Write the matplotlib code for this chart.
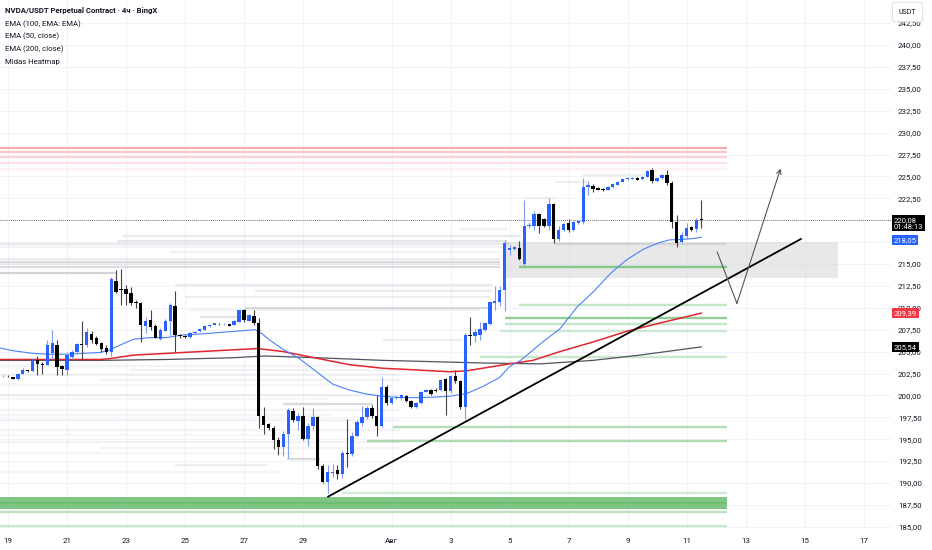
import matplotlib
matplotlib.use('Agg')
import matplotlib.pyplot as plt
import matplotlib.dates as mdates
import numpy as np
import pandas as pd

plt.rcParams['font.family'] = ['Roboto', 'DejaVu Sans']

# 4h candles, NVDA/USDT perpetual on BingX
first_bar = '2025-07-18 20:00'
opens = [202.2, 202.25, 202.1, 201.85, 202.5, 202.9, 202.8, 204.0, 203.6, 203.5,
         204.8, 205.8, 203.3, 202.9, 204.4, 204.9, 205.9, 205.75, 207.05, 206.5,
         205.95, 205.4, 204.9, 213.1, 212.15, 212.1, 211.65, 210.7, 210.5, 207.95,
         208.6, 207.9, 206.45, 207.4, 208.55, 210.2, 206.9, 206.75, 206.65, 207.1,
         207.3, 207.5, 207.9, 208.05, 208.2, 208.1, 208.1, 208.05, 208.4, 209.75,
         208.55, 209.1, 208.25, 197.7, 196.7, 196.25, 194.95, 194.1, 195.6, 198.2,
         197.05, 197.65, 195.0, 196.5, 197.55, 191.9, 190.1, 191.1, 191.45, 191.0,
         193.4, 193.3, 195.4, 196.9, 197.5, 198.6, 197.7, 196.5, 200.95, 199.15,
         199.65, 199.7, 199.95, 199.35, 198.7, 199.1, 200.4, 200.6, 200.6, 200.6,
         201.9, 200.45, 202.2, 201.6, 198.7, 206.9, 206.8, 206.9, 207.5, 208.1,
         210.6, 210.7, 212.0, 216.6, 216.7, 216.8, 215.0, 219.3, 219.3, 220.75,
         220.1, 219.3, 221.9, 217.9, 218.9, 219.7, 218.9, 219.7, 219.75, 223.8,
         223.85, 223.65, 223.6, 223.5, 223.75, 224.05, 224.4, 224.65, 224.7, 224.8,
         224.65, 224.95, 225.7, 224.5, 224.8, 225.15, 224.3, 219.85, 217.55, 218.25,
         219.2, 218.95, 220.1]
highs = [202.3, 202.3, 202.15, 202.55, 203.1, 202.95, 204.2, 204.5, 203.85, 206.3,
         207.5, 206.3, 203.5, 205.0, 205.2, 206.0, 208.5, 207.7, 207.3, 206.8,
         206.15, 205.7, 213.55, 214.3, 214.4, 212.6, 212.4, 210.9, 210.7, 209.0,
         209.75, 208.2, 207.7, 208.7, 210.5, 211.95, 207.0, 206.85, 207.2, 207.3,
         207.6, 208.0, 208.1, 208.3, 208.3, 208.25, 208.15, 208.6, 209.8, 209.85,
         209.3, 209.75, 208.8, 198.7, 196.9, 196.55, 195.25, 195.9, 198.6, 198.6,
         198.0, 198.7, 196.85, 198.6, 197.65, 192.2, 192.0, 192.2, 192.0, 193.7,
         197.35, 195.8, 197.2, 198.75, 198.75, 198.85, 200.0, 202.05, 201.2, 199.8,
         199.95, 200.2, 200.1, 199.45, 199.2, 200.5, 200.7, 200.7, 200.8, 201.9,
         202.0, 202.35, 202.95, 201.75, 207.1, 208.9, 207.55, 208.4, 208.4, 210.8,
         212.45, 212.45, 217.75, 217.2, 217.0, 217.65, 222.35, 219.85, 221.0, 220.8,
         220.2, 222.5, 222.0, 219.3, 219.7, 220.1, 219.95, 220.0, 224.8, 224.5,
         224.1, 223.75, 223.7, 223.85, 224.2, 224.5, 224.75, 224.9, 224.9, 224.9,
         225.0, 225.75, 226.0, 224.9, 225.25, 225.7, 224.5, 220.6, 218.6, 219.65,
         219.3, 220.3, 222.35]
lows = [202.1, 202.1, 201.85, 201.8, 202.4, 202.7, 202.7, 202.3, 202.4, 203.45,
        204.2, 202.3, 202.3, 202.3, 204.2, 204.8, 204.1, 205.5, 206.0, 205.75,
        204.95, 204.75, 204.5, 211.65, 210.3, 210.3, 210.3, 209.95, 206.1, 207.1,
        207.45, 206.55, 206.3, 207.3, 206.9, 205.0, 206.6, 206.6, 206.6, 207.05,
        207.25, 207.45, 207.85, 208.0, 208.0, 208.0, 207.9, 208.0, 208.35, 208.4,
        208.5, 208.0, 196.3, 195.6, 196.1, 193.9, 193.2, 193.1, 192.9, 197.0,
        196.1, 194.9, 194.25, 196.1, 191.65, 190.0, 188.85, 190.7, 190.4, 190.55,
        191.8, 193.05, 195.25, 196.55, 197.3, 197.45, 195.4, 196.4, 198.9, 199.05,
        199.6, 199.5, 199.3, 198.6, 198.6, 199.0, 200.35, 200.1, 200.4, 200.5,
        197.8, 200.3, 201.45, 198.5, 197.25, 205.75, 206.1, 206.3, 207.3, 208.0,
        209.8, 210.15, 209.6, 216.0, 216.6, 215.45, 214.9, 219.1, 218.9, 218.55,
        219.2, 218.9, 217.35, 217.6, 218.8, 218.7, 218.8, 219.6, 219.6, 222.9,
        223.25, 223.4, 223.35, 223.4, 223.7, 224.0, 224.35, 224.6, 224.65, 224.55,
        224.6, 224.9, 224.3, 224.4, 224.7, 224.0, 219.1, 216.9, 217.35, 217.9,
        218.8, 218.7, 219.1]
closes = [202.25, 202.2, 201.9, 202.5, 202.9, 202.75, 204.1, 203.6, 203.45, 205.75,
          206.0, 203.2, 203.0, 204.6, 205.0, 205.9, 205.7, 207.2, 206.35, 205.9,
          205.3, 204.9, 213.25, 211.8, 212.05, 211.6, 210.6, 210.5, 208.05, 208.55,
          207.8, 206.6, 207.5, 208.55, 210.3, 206.9, 206.75, 206.7, 207.1, 207.25,
          207.55, 207.95, 208.05, 208.25, 208.1, 208.15, 207.95, 208.55, 209.75, 208.6,
          209.2, 208.25, 197.7, 196.6, 196.25, 194.95, 194.1, 195.6, 198.3, 197.15,
          197.65, 195.0, 196.55, 197.5, 191.9, 190.1, 191.25, 191.25, 191.0, 193.4,
          193.3, 195.4, 197.0, 197.55, 198.6, 197.7, 196.55, 201.0, 199.15, 199.65,
          199.85, 200.05, 199.35, 198.7, 199.15, 200.4, 200.6, 200.15, 200.5, 201.8,
          200.45, 202.2, 201.6, 198.7, 206.9, 206.8, 207.2, 207.55, 208.25, 210.7,
          210.8, 212.0, 217.45, 216.8, 216.9, 215.55, 219.3, 219.5, 220.75, 219.3,
          219.35, 221.9, 217.9, 218.9, 219.6, 218.9, 219.85, 219.9, 223.8, 224.0,
          223.6, 223.5, 223.45, 223.75, 224.1, 224.4, 224.65, 224.8, 224.8, 224.6,
          224.9, 225.65, 224.5, 224.8, 225.15, 224.3, 219.85, 217.35, 218.3, 219.1,
          218.9, 220.0, 220.08]

# EMA lines
ema50_times = ['2025-07-18 18:00', '2025-07-19 04:00', '2025-07-19 20:00', '2025-07-20 10:00',
               '2025-07-21 00:00', '2025-07-21 13:00', '2025-07-22 03:00', '2025-07-22 11:00',
               '2025-07-22 16:00', '2025-07-23 06:00', '2025-07-23 19:00', '2025-07-24 09:00',
               '2025-07-24 22:00', '2025-07-25 12:00', '2025-07-26 15:00', '2025-07-27 09:00',
               '2025-07-27 15:00', '2025-07-27 21:00', '2025-07-28 08:00', '2025-07-28 21:00',
               '2025-07-29 11:00', '2025-07-30 00:00', '2025-07-30 14:00', '2025-07-31 04:00',
               '2025-07-31 17:00', '2025-08-01 07:00', '2025-08-01 21:00', '2025-08-02 10:00',
               '2025-08-02 23:00', '2025-08-03 13:00', '2025-08-04 02:00', '2025-08-04 16:00',
               '2025-08-05 00:00', '2025-08-05 09:00', '2025-08-06 03:00', '2025-08-06 17:00',
               '2025-08-07 07:00', '2025-08-07 20:00', '2025-08-08 10:00', '2025-08-08 23:00',
               '2025-08-09 13:00', '2025-08-10 02:00', '2025-08-10 10:00', '2025-08-10 19:00',
               '2025-08-11 05:00', '2025-08-11 12:00']
ema50_vals = [205.4, 205.1, 204.8, 204.7, 204.7, 204.8, 204.9, 205.2, 205.55, 206.4,
              206.6, 206.6, 206.9, 207.0, 207.3, 207.5, 207.0, 206.3, 205.25, 204.2,
              202.7, 201.3, 200.6, 200.15, 199.9, 199.75, 199.75, 199.8, 199.9, 200.2,
              201.0, 202.05, 203.3, 204.0, 206.1, 207.6, 210.1, 211.8, 213.9, 215.45,
              216.7, 217.45, 217.75, 217.8, 217.9, 218.05]
ema100_times = ['2025-07-18 18:00', '2025-07-22 03:00', '2025-07-22 11:00', '2025-07-23 06:00',
                '2025-07-24 09:00', '2025-07-25 12:00', '2025-07-26 15:00', '2025-07-27 11:00',
                '2025-07-28 08:00', '2025-07-29 11:00', '2025-07-30 14:00', '2025-07-31 17:00',
                '2025-08-01 21:00', '2025-08-02 23:00', '2025-08-03 13:00', '2025-08-04 02:00',
                '2025-08-05 00:00', '2025-08-05 19:00', '2025-08-06 17:00', '2025-08-07 20:00',
                '2025-08-08 23:00', '2025-08-10 02:00', '2025-08-11 12:00']
ema100_vals = [204.1, 204.1, 204.2, 204.6, 204.8, 205.0, 205.2, 205.35, 205.0, 204.25,
               203.5, 203.1, 202.9, 202.7, 202.8, 203.1, 203.6, 204.0, 205.0, 206.1,
               207.3, 208.25, 209.39]
ema200_times = ['2025-07-18 18:00', '2025-07-22 03:00', '2025-07-24 09:00', '2025-07-26 15:00',
                '2025-07-27 17:00', '2025-07-29 11:00', '2025-07-30 14:00', '2025-07-31 17:00',
                '2025-08-01 21:00', '2025-08-02 23:00', '2025-08-04 02:00', '2025-08-06 01:00',
                '2025-08-07 20:00', '2025-08-09 10:00', '2025-08-11 12:00']
ema200_vals = [204.0, 204.0, 204.1, 204.3, 204.5, 204.3, 204.15, 204.0, 203.9, 203.8,
               203.7, 203.6, 204.0, 204.6, 205.54]

# Midas heatmap levels
heat_start = '2025-07-18 12:00'
heat_end = '2025-08-12 09:00'
red_prices = [228.2, 227.75, 227.2, 226.5, 225.85]
red_weights = [0.9, 0.6, 0.45, 0.3, 0.15]
green_band = (187.0, 188.4)
green_prices = [187.75, 186.7, 185.1, 188.9, 194.85, 196.4, 204.4, 207.4, 208.15, 208.8, 210.3, 214.7]
green_starts = ['2025-07-18 12:00', '2025-07-18 12:00', '2025-07-18 12:00', '2025-07-30 08:00',
                '2025-07-31 04:00', '2025-08-01 01:00', '2025-08-04 00:00', '2025-08-04 16:00',
                '2025-08-04 20:00', '2025-08-04 20:00', '2025-08-05 08:00', '2025-08-05 08:00']
green_weights = [0.9, 0.45, 0.35, 0.3, 0.55, 0.5, 0.35, 0.3, 0.4, 0.75, 0.4, 0.8]
gray_prices = [218.23, 217.66, 217.28, 216.9, 216.34, 215.57, 215.26, 215.0, 214.62, 213.94,
               212.6, 211.92, 211.27, 209.94, 209.75, 208.98, 206.32, 217.3, 225.2, 224.4,
               222.5, 219.0, 202.9, 202.33, 201.75, 200.04, 199.0, 198.33, 197.19, 196.04,
               194.67, 193.99, 192.73, 192.05, 203.4, 201.2, 199.6, 197.8, 195.5, 193.4, 191.3]
gray_starts = ['2025-07-22 21:00', '2025-07-22 17:00', '2025-07-18 12:00', '2025-07-18 12:00',
               '2025-07-24 12:00', '2025-07-18 12:00', '2025-07-18 12:00', '2025-07-18 12:00',
               '2025-07-18 12:00', '2025-07-18 12:00', '2025-07-24 16:00', '2025-07-27 09:00',
               '2025-07-25 00:00', '2025-07-27 01:00', '2025-07-25 04:00', '2025-07-25 12:00',
               '2025-07-31 17:00', '2025-08-06 13:00', '2025-08-07 12:00', '2025-08-06 13:00',
               '2025-08-05 12:00', '2025-08-03 08:00', '2025-07-23 03:00', '2025-07-18 12:00',
               '2025-07-22 03:00', '2025-07-18 12:00', '2025-07-28 08:00', '2025-07-18 12:00',
               '2025-07-18 12:00', '2025-07-18 12:00', '2025-07-18 12:00', '2025-07-22 03:00',
               '2025-07-28 11:00', '2025-07-24 16:00', '2025-07-18 12:00', '2025-07-18 12:00',
               '2025-07-18 12:00', '2025-07-18 12:00', '2025-07-18 12:00', '2025-07-18 12:00',
               '2025-07-18 12:00']
gray_ends = ['2025-08-05 09:00', '2025-08-04 22:00', '2025-08-05 00:00', '2025-08-04 20:00',
             '2025-08-04 16:00', '2025-08-04 16:00', '2025-08-04 16:00', '2025-08-04 16:00',
             '2025-08-04 16:00', '2025-07-22 17:00', '2025-08-04 10:00', '2025-08-04 10:00',
             '2025-08-04 08:00', '2025-08-04 08:00', '2025-08-04 00:00', '2025-07-26 22:00',
             '2025-08-03 10:00', '2025-08-12 09:00', '2025-08-09 17:00', '2025-08-07 15:00',
             '2025-08-06 14:00', '2025-08-04 22:00', '2025-08-01 07:00', '2025-08-01 07:00',
             '2025-08-01 07:00', '2025-08-01 07:00', '2025-07-31 09:00', '2025-08-01 07:00',
             '2025-08-01 07:00', '2025-08-01 07:00', '2025-08-01 07:00', '2025-08-01 07:00',
             '2025-07-29 14:00', '2025-07-27 19:00', '2025-07-31 12:00', '2025-07-30 10:00',
             '2025-07-29 20:00', '2025-07-30 00:00', '2025-07-29 06:00', '2025-07-28 20:00',
             '2025-07-28 04:00']
gray_weights = [0.3, 0.35, 0.3, 0.15, 0.18, 0.3, 0.5, 0.22, 0.5, 0.65,
                0.3, 0.3, 0.25, 0.5, 0.18, 0.4, 0.25, 0.4, 0.25, 0.25,
                0.18, 0.18, 0.18, 0.15, 0.15, 0.18, 0.55, 0.15, 0.18, 0.15,
                0.18, 0.15, 0.55, 0.25, 0.15, 0.12, 0.12, 0.12, 0.12, 0.12, 0.12]

# drawings
trend_times = ['2025-07-29 20:30', '2025-08-14 21:00']
trend_prices = [188.45, 217.85]
path_times = ['2025-08-12 01:00', '2025-08-12 17:00', '2025-08-14 04:30']
path_prices = [216.35, 210.5, 225.9]
zone_times = ['2025-08-04 20:30', '2025-08-16 03:00']
zone_prices = [213.4, 217.5]

last_price = 220.08
ema50_last, ema100_last, ema200_last = 218.05, 209.39, 205.54

tick_days = ['2025-07-19', '2025-07-21', '2025-07-23', '2025-07-25', '2025-07-27', '2025-07-29',
             '2025-08-01', '2025-08-03', '2025-08-05', '2025-08-07', '2025-08-09', '2025-08-11',
             '2025-08-13', '2025-08-15', '2025-08-17']
tick_labels = ['19', '21', '23', '25', '27', '29', 'Авг', '3', '5', '7', '9', '11', '13', '15', '17']
price_ticks = np.arange(185, 243, 2.5)
hidden_ticks = [217.5, 220.0]  # covered by the price tags


def dn(s):
    return mdates.date2num(pd.to_datetime(s))


def fmt(v):
    return f'{v:.2f}'.replace('.', ',')


fig = plt.figure(figsize=(9.32, 5.5), dpi=100)
fig.patch.set_facecolor('white')
ax = fig.add_axes([0, 20 / 550, 891 / 932, 530 / 550])
ax.set_facecolor('white')

# heatmap
h0, h1 = dn(heat_start), dn(heat_end)
for p, w in zip(red_prices, red_weights):
    ax.hlines(p, h0, h1, color='#f7a1a8', lw=1.6, alpha=w, zorder=1.5)
ax.fill_between([h0, h1], green_band[0], green_band[1], color='#80c684', lw=0, zorder=1.5)
for p, s, w in zip(green_prices, green_starts, green_weights):
    ax.hlines(p, dn(s), h1, color='#6cbf72', lw=1.7, alpha=w, zorder=1.6)
for p, s, e, w in zip(gray_prices, gray_starts, gray_ends, gray_weights):
    ax.hlines(p, dn(s), dn(e), color='#a3a6ae', lw=1.6, alpha=w * 0.75, zorder=1.4)

# zone box
zx = dn(zone_times)
ax.fill_between(zx, zone_prices[0], zone_prices[1], color='#d9d9d9', alpha=0.6, lw=0, zorder=1.2)

# EMAs
ax.plot(dn(ema200_times), ema200_vals, color='#50535e', lw=0.9, zorder=3)
ax.plot(dn(ema100_times), ema100_vals, color='#e0262f', lw=1.1, zorder=3)
ax.plot(dn(ema50_times), ema50_vals, color='#4c82f5', lw=0.8, zorder=3)

# candles
t = mdates.date2num(pd.date_range(first_bar, periods=len(opens), freq='4h'))
o, hi, lo, c = map(np.array, (opens, highs, lows, closes))
up = c >= o
body_lo = np.minimum(o, c)
body_h = np.maximum(np.abs(c - o), 0.07)
ax.vlines(t[up], lo[up], hi[up], color='#7c9ef7', lw=0.8, zorder=4)
ax.vlines(t[~up], lo[~up], hi[~up], color='#444444', lw=0.8, zorder=4)
ax.bar(t[up], body_h[up], bottom=body_lo[up], width=0.115, color='#2962ff', lw=0, zorder=4.5)
ax.bar(t[~up], body_h[~up], bottom=body_lo[~up], width=0.115, color='#000000', lw=0, zorder=4.5)

# trend line and projected path
ax.plot(dn(trend_times), trend_prices, color='black', lw=1.3, zorder=5)
pt = dn(path_times)
ax.plot(pt[:2], path_prices[:2], color='#555555', lw=0.8, zorder=5)
ax.annotate('', xy=(pt[2], path_prices[2]), xytext=(pt[1], path_prices[1]),
            arrowprops=dict(arrowstyle='->', color='#555555', lw=0.8,
                            shrinkA=0, shrinkB=0, mutation_scale=8), zorder=5)

# last price line
ax.axhline(last_price, color='#434651', lw=0.6, ls=(0, (1, 1.5)), zorder=2)

# axes
ax.set_xlim(dn('2025-07-18 17:30'), dn('2025-08-17 22:20'))
ax.set_ylim(184.635, 245.137)
ax.set_xticks(dn(tick_days))
ax.set_xticklabels(tick_labels)
ax.set_yticks(price_ticks)
ax.set_yticklabels(['' if v in hidden_ticks else fmt(v) for v in price_ticks])
ax.yaxis.tick_right()
ax.tick_params(axis='both', length=0, labelsize=5.7, colors='#131722')
ax.tick_params(axis='y', pad=5)
ax.tick_params(axis='x', pad=6)
ax.grid(color='#f0f3fa', lw=0.8, zorder=0)
ax.set_axisbelow(True)
for sp in ax.spines.values():
    sp.set_visible(False)

# price labels on the axis
ytr = ax.get_yaxis_transform()
lab = dict(transform=ytr, ha='left', va='center', fontsize=5.5, color='white', zorder=10, clip_on=False)
ax.text(1.003, 219.65, fmt(last_price) + '\n01:48:13',
        bbox=dict(boxstyle='square,pad=0.2', fc='#000000', ec='none'), linespacing=1.1, **lab)
ax.text(1.003, 217.75, fmt(ema50_last),
        bbox=dict(boxstyle='square,pad=0.25', fc='#2962ff', ec='none'), **lab)
ax.text(1.003, ema100_last, fmt(ema100_last),
        bbox=dict(boxstyle='square,pad=0.25', fc='#f23645', ec='none'), **lab)
ax.text(1.003, ema200_last, fmt(ema200_last),
        bbox=dict(boxstyle='square,pad=0.25', fc='#000000', ec='none'), **lab)

fig.text(907.5 / 932, 1 - 12 / 550, 'USDT', ha='center', va='center', fontsize=5, color='#131722',
         bbox=dict(boxstyle='round,pad=0.9,rounding_size=0.3', fc='white', ec='#e0e3eb', lw=0.8),
         zorder=10)

# legend
legend_lines = ['NVDA/USDT Perpetual Contract · 4ч · BingX', 'EMA (100, EMA: EMA)',
                'EMA (50, close)', 'EMA (200, close)', 'Midas Heatmap']
for i, s in enumerate(legend_lines):
    fig.text(5 / 932, 1 - (11 + 12.8 * i) / 550, s, ha='left', va='center', fontsize=5.6,
             color='#131722', fontweight='semibold' if i == 0 else 'normal', zorder=10)

plt.savefig('out.png', dpi=100, facecolor='white')
